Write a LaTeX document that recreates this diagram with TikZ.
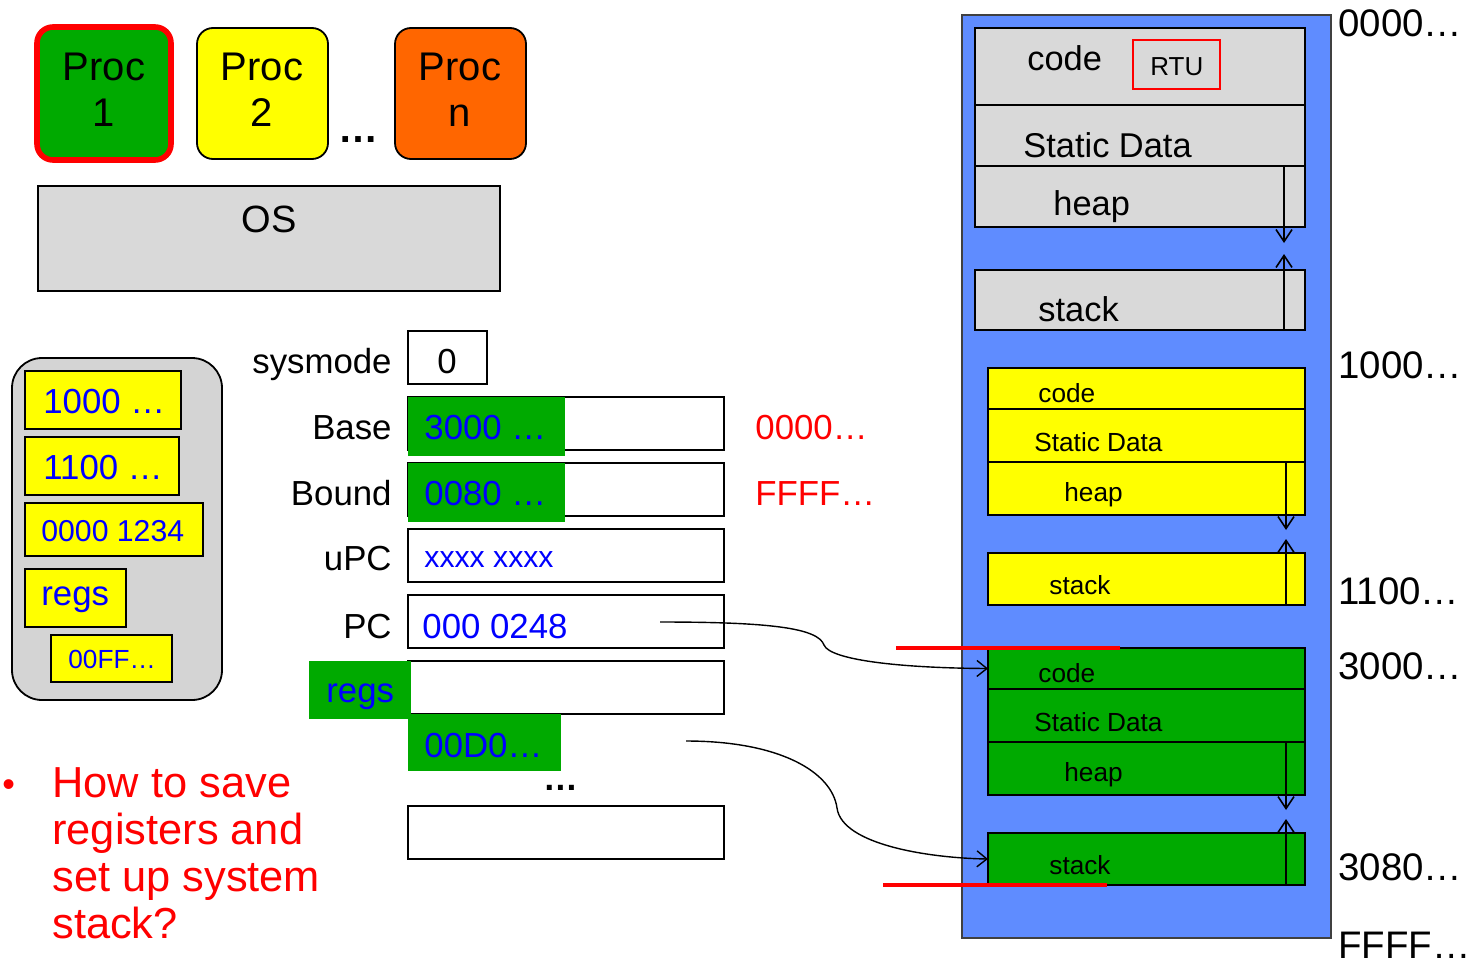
\documentclass[tikz,border=0pt]{standalone}
\usepackage{fontspec}
\setmainfont{Liberation Sans}
\usetikzlibrary{arrows.meta}
\definecolor{pgreen}{HTML}{00AA00}
\definecolor{pyellow}{HTML}{FFFF00}
\definecolor{porange}{HTML}{FF6600}
\definecolor{pgray}{HTML}{D9D9D9}
\definecolor{lgray}{HTML}{D4D4D4}
\definecolor{pblue}{HTML}{5F8CFF}
\definecolor{tblue}{HTML}{0000FF}
\definecolor{tred}{HTML}{FF0000}
\newcommand\bx[7]{\node[#6, minimum width={(#4-#2)*0.5pt}, minimum height={(#5-#3)*0.5pt}, anchor=north west, inner sep=0pt, outer sep=0pt] (#1) at (#2,#3) {#7};}
\begin{document}
\begin{tikzpicture}[x=0.5pt,y=-0.5pt,
  bl/.style={draw=black, line width=0.9pt},
  tb/.style={anchor=base west, inner sep=0pt},
  te/.style={anchor=base east, inner sep=0pt},
  fA/.style={font=\fontsize{20}{23}\selectfont},
  fB/.style={font=\fontsize{17.4}{21}\selectfont},
  fC/.style={font=\fontsize{13.1}{16}\selectfont},
  fD/.style={font=\fontsize{15.1}{18}\selectfont},
  fE/.style={font=\fontsize{19.2}{23}\selectfont},
  memtxt/.style={font=\fontsize{17.2}{21}\selectfont},
  conn/.style={draw=black, line width=0.7pt, -{Straight Barb[length=5pt,width=8pt]}},
  harr/.style={draw=black, line width=0.8pt, -{Straight Barb[length=6pt,width=8pt]}},
  redline/.style={draw=tred, line width=2pt}]
\useasboundingbox (0,0) rectangle (1476,964);

% processes
\bx{p1}{37}{27}{171}{160}{draw=tred, line width=2.8pt, fill=pgreen, rounded corners=8pt}{}
\bx{p2}{197}{28}{328}{159}{bl, fill=pyellow, rounded corners=8pt}{}
\bx{pn}{395}{28}{526}{159}{bl, fill=porange, rounded corners=8pt}{}
\node[fA, align=center, anchor=north, inner sep=0pt] (p1t) at (104,53) {Proc\\1};
\node[fA, align=center, anchor=north, inner sep=0pt] (p2t) at (262,53) {Proc\\2};
\node[fA, align=center, anchor=north, inner sep=0pt] (pnt) at (460,53) {Proc\\n};
\node[tb, font=\fontsize{20}{23}\selectfont\bfseries] (pdots) at (338,142) {…};

% OS
\bx{os}{38}{186}{500}{291}{bl, fill=pgray}{}
\node[anchor=base, inner sep=0pt, font=\fontsize{19}{23}\selectfont] (ost) at (269,232) {OS};

% saved state (left)
\bx{save}{12}{358}{222}{700}{bl, fill=lgray, rounded corners=15pt}{}
\bx{s1}{25}{371}{181}{429}{bl, fill=pyellow}{}
\bx{s2}{25}{437}{179}{495}{bl, fill=pyellow}{}
\bx{s3}{25}{503}{203}{556}{bl, fill=pyellow}{}
\bx{s4}{25}{569}{126}{627}{bl, fill=pyellow}{}
\bx{s5}{51}{635}{172}{682}{bl, fill=pyellow}{}
\node[tb, fB, text=tblue] (s1t) at (43,413) {1000 …};
\node[tb, fB, text=tblue] (s2t) at (43,479) {1100 …};
\node[tb, fD, text=tblue] (s3t) at (41,541) {0000 1234};
\node[tb, fB, text=tblue] (s4t) at (41,605) {regs};
\node[tb, fC, text=tblue] (s5t) at (68,668) {00FF…};

% registers
\node[te, fB] (lsys) at (392,373) {sysmode};
\bx{rsys}{408}{331}{487}{384}{bl, fill=white}{}
\node[anchor=base, inner sep=0pt, fB] (rsyst) at (447,373) {0};
\node[te, fB] (lbase) at (392,439) {Base};
\node[te, fB] (lbound) at (392,505) {Bound};
\node[te, fB] (lupc) at (392,570) {uPC};
\node[te, fB] (lpc) at (392,638) {PC};
\bx{rbase}{408}{397}{724}{450}{bl, fill=white}{}
\bx{rbound}{408}{463}{724}{516}{bl, fill=white}{}
\bx{rupc}{408}{529}{724}{582}{bl, fill=white}{}
\bx{rpc}{408}{595}{724}{648}{bl, fill=white}{}
\bx{rregs}{408}{661}{724}{714}{bl, fill=white}{}
\bx{rlast}{408}{806}{724}{859}{bl, fill=white}{}
\bx{gbase}{408}{397}{565}{456}{fill=pgreen}{}
\bx{gbound}{408}{463}{565}{522}{fill=pgreen}{}
\bx{gregs}{309}{661}{411}{719}{fill=pgreen}{}
\bx{gd0}{408}{714}{561}{771}{fill=pgreen}{}
\node[tb, fB, text=tblue] (gbaset) at (424,439) {3000 …};
\node[tb, fB, text=tblue] (gboundt) at (424,505) {0080 …};
\node[tb, fD, text=tblue] (rupct) at (424,567) {xxxx xxxx};
\node[tb, fB, text=tblue] (rpct) at (422,638) {000 0248};
\node[tb, fB, text=tblue] (gregst) at (326,702) {regs};
\node[tb, fB, text=tblue] (gd0t) at (424,757) {00D0…};
\node[tb, font=\fontsize{17.4}{21}\selectfont\bfseries] (rdots) at (543,790) {…};
\node[tb, fB, text=tred] (lo) at (755,439) {0000…};
\node[tb, fB, text=tred] (hi) at (755,505) {FFFF…};

% question
\node[tb, font=\fontsize{18}{21}\selectfont, text=tred] (bul) at (2,796) {•};
\node[anchor=north west, inner sep=0pt, align=left, text=tred, font=\fontsize{21.7}{23.5}\selectfont] (q) at (52,767) {How to save\\registers and\\set up system\\stack?};

% memory
\bx{mem}{962}{15}{1331}{938}{draw=black!75, line width=1pt, fill=pblue}{}
\bx{mc0}{975}{28}{1305}{105}{bl, fill=pgray}{}
\bx{ms0}{975}{105}{1305}{166}{bl, fill=pgray}{}
\bx{mh0}{975}{166}{1305}{227}{bl, fill=pgray}{}
\bx{mk0}{975}{270}{1305}{330}{bl, fill=pgray}{}
\bx{rtu}{1133}{40}{1220}{89}{draw=tred, line width=0.75pt}{}
\node[tb, memtxt] (mc0t) at (1027,70) {code};
\node[tb, font=\fontsize{13}{16}\selectfont] (rtut) at (1150,75) {RTU};
\node[tb, memtxt] (ms0t) at (1023,157) {Static Data};
\node[tb, memtxt] (mh0t) at (1053,215) {heap};
\node[tb, memtxt] (mk0t) at (1038,321) {stack};

\bx{ycode}{988}{368}{1305}{409}{bl, fill=pyellow}{}
\bx{ysd}{988}{409}{1305}{462}{bl, fill=pyellow}{}
\bx{yheap}{988}{462}{1305}{515}{bl, fill=pyellow}{}
\bx{ystack}{988}{553}{1305}{605}{bl, fill=pyellow}{}
\node[tb, fC] (ycodet) at (1038,402) {code};
\node[tb, fC] (ysdt) at (1034,451) {Static Data};
\node[tb, fC] (yheapt) at (1064,501) {heap};
\node[tb, fC] (ystackt) at (1049,594) {stack};

\bx{gcode}{988}{648}{1305}{689}{bl, fill=pgreen}{}
\bx{gsd}{988}{689}{1305}{742}{bl, fill=pgreen}{}
\bx{gheap}{988}{742}{1305}{795}{bl, fill=pgreen}{}
\bx{gstack}{988}{833}{1305}{885}{bl, fill=pgreen}{}
\node[tb, fC] (gcodet) at (1038,682) {code};
\node[tb, fC] (gsdt) at (1034,731) {Static Data};
\node[tb, fC] (gheapt) at (1064,781) {heap};
\node[tb, fC] (gstackt) at (1049,874) {stack};

% growth arrows
\coordinate (a1s) at (1284,166); \coordinate (a1e) at (1284,243);
\coordinate (a2s) at (1284,330); \coordinate (a2e) at (1284,254);
\coordinate (a3s) at (1286,462); \coordinate (a3e) at (1286,530);
\coordinate (a4s) at (1286,605); \coordinate (a4e) at (1286,539);
\coordinate (a5s) at (1286,742); \coordinate (a5e) at (1286,810);
\coordinate (a6s) at (1286,885); \coordinate (a6e) at (1286,819);
\draw[harr] (a1s) -- (a1e);
\draw[harr] (a2s) -- (a2e);
\draw[harr] (a3s) -- (a3e);
\draw[harr] (a4s) -- (a4e);
\draw[harr] (a5s) -- (a5e);
\draw[harr] (a6s) -- (a6e);

% red bounds
\coordinate (rl1a) at (896,648); \coordinate (rl1b) at (1120,648);
\coordinate (rl2a) at (883,885); \coordinate (rl2b) at (1107,885);
\draw[redline] (rl1a) -- (rl1b);
\draw[redline] (rl2a) -- (rl2b);

% address labels
\node[tb, fE] (m0) at (1338,36) {0000…};
\node[tb, fE] (m1) at (1338,378) {1000…};
\node[tb, fE] (m2) at (1338,604) {1100…};
\node[tb, fE] (m3) at (1338,679) {3000…};
\node[tb, fE] (m4) at (1338,880) {3080…};
\node[tb, fE] (m5) at (1338,958) {FFFF…};

% connectors
\coordinate (pcs) at (660,622);
\coordinate (d0s) at (686,741);
\draw[conn] (pcs) .. controls (770,622) and (818,628) .. (824,645) .. controls (830,660) and (900,668) .. (gcode.west);
\draw[conn] (d0s) .. controls (780,741) and (832,772) .. (837,808) .. controls (842,845) and (930,858) .. (gstack.west);
\end{tikzpicture}
\end{document}
